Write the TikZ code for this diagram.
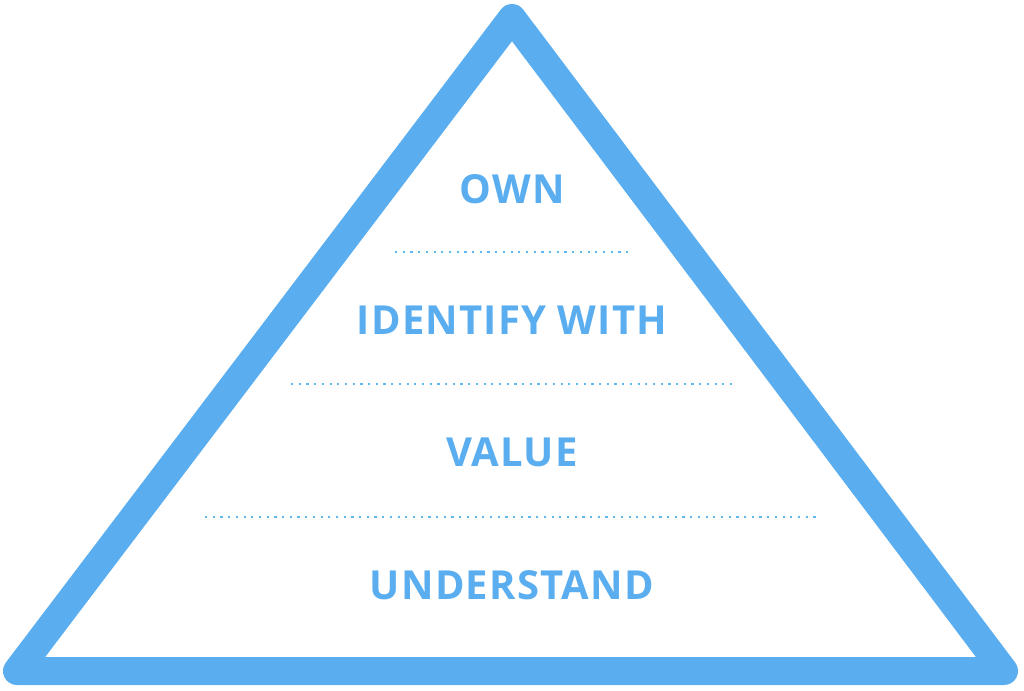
\documentclass[tikz,border=0pt]{standalone}
\usepackage{fontspec}
\setmainfont{Open Sans}
\newfontfamily\levelfont[LetterSpace=3]{Open Sans Bold}
\definecolor{pyrblue}{RGB}{90,174,240}
\definecolor{dotblue}{RGB}{95,185,240}
\begin{document}
\begin{tikzpicture}[x=1pt,y=-1pt,
    level/.style={pyrblue, font=\levelfont\fontsize{40}{40}\selectfont, inner sep=0pt, anchor=base},
    sep/.style={dotblue, line width=2.2pt, dash pattern=on 2.2pt off 5.5pt}]
        \useasboundingbox (0,0) rectangle (1024,690);
        \draw[pyrblue, line width=28pt, line join=round] (17,671) -- (512,18) -- (1004,671) -- cycle;
        \node[level] (own) at (512,203) {OWN};
        \node[level] (identify) at (512,334) {IDENTIFY WITH};
        \node[level] (value) at (512,466) {VALUE};
        \node[level] (understand) at (512,599) {UNDERSTAND};
        \draw[sep] (395,252) -- (629,252);
        \draw[sep] (291,384) -- (733,384);
        \draw[sep] (205,517) -- (819,517);
    \end{tikzpicture}
\end{document}
